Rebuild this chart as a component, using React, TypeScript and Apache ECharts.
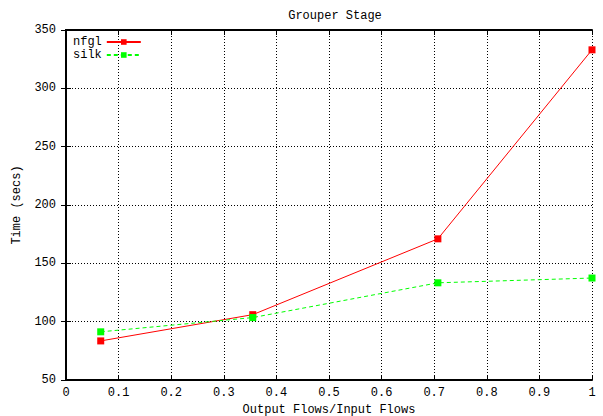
import React, { useEffect, useRef } from "react";
import * as echarts from "echarts";

const xValues = [0.066, 0.355, 0.707, 1.0];
const nfgl = [83.5, 106, 171, 333];
const silk = [91.3, 103.5, 133.3, 137.4];
const xTicks = [0, 0.1, 0.2, 0.3, 0.4, 0.5, 0.6, 0.7, 0.8, 0.9, 1];
const yTicks = [50, 100, 150, 200, 250, 300, 350];

const FONT = "Liberation Mono";
const FS = 12;

export default function App() {
  const ref = useRef<HTMLDivElement>(null);
  useEffect(() => {
    if (!ref.current) return;
    const chart = echarts.init(ref.current, null, { renderer: "svg" });
    const grid = { left: 66, right: 11, top: 30, bottom: 36, outerBoundsMode: "none", containLabel: false };
    const gridLine = { show: true, lineStyle: { color: "#000", type: [1, 2] as any, width: 1 } };
    chart.setOption({
      animation: false,
      backgroundColor: "#fff",
      title: {
        text: "Grouper Stage",
        left: 330,
        textAlign: "center",
        top: 5,
        textStyle: { fontFamily: FONT, fontSize: FS, fontWeight: "normal", color: "#000" },
      },
      legend: {
        left: 73,
        top: 36,
        orient: "vertical",
        align: "right",
        itemWidth: 34,
        itemHeight: 7,
        itemGap: 1,
        padding: 0,
        textStyle: { fontFamily: FONT, fontSize: FS, color: "#000", padding: [0, 0, 0, 0] },
        data: ["nfgl", "silk"],
      },
      grid,
      xAxis: [
        {
          type: "value",
          min: 0,
          max: 1,
          interval: 0.1,
          axisLine: { show: true, lineStyle: { color: "#000", width: 2 } },
          axisTick: { show: true, inside: true, length: 5, lineStyle: { color: "#000" } },
          axisLabel: {
            fontFamily: FONT,
            fontSize: FS,
            color: "#000",
            margin: 7,
            formatter: (v: number) => {
              const t = xTicks.find((k) => Math.abs(k - v) < 1e-9);
              return t === undefined ? "" : String(t);
            },
          },
          splitLine: gridLine,
          name: "Output Flows/Input Flows",
          nameLocation: "middle",
          nameGap: 23,
          nameTextStyle: { fontFamily: FONT, fontSize: FS, color: "#000" },
        },
        {
          type: "value",
          position: "top",
          min: 0,
          max: 1,
          interval: 0.1,
          axisLine: { show: true, lineStyle: { color: "#000", width: 2 } },
          axisTick: { show: true, inside: true, length: 5, lineStyle: { color: "#000" } },
          axisLabel: { show: false },
          splitLine: { show: false },
        },
      ],
      yAxis: [
        {
          type: "value",
          min: 50,
          max: 350,
          interval: 50,
          axisLine: { show: true, lineStyle: { color: "#000", width: 2 } },
          axisTick: { show: true, inside: true, length: 5, lineStyle: { color: "#000" } },
          axisLabel: {
            fontFamily: FONT,
            fontSize: FS,
            color: "#000",
            margin: 10,
            formatter: (v: number) => (yTicks.includes(v) ? String(v) : ""),
          },
          splitLine: gridLine,
          name: "Time (secs)",
          nameLocation: "middle",
          nameGap: 40,
          nameRotate: 90,
          nameTextStyle: { fontFamily: FONT, fontSize: FS, color: "#000" },
        },
        {
          type: "value",
          position: "right",
          min: 50,
          max: 350,
          interval: 50,
          axisLine: { show: true, lineStyle: { color: "#000", width: 2 } },
          axisTick: { show: true, inside: true, length: 5, lineStyle: { color: "#000" } },
          axisLabel: { show: false },
          splitLine: { show: false },
        },
      ],
      series: [
        {
          name: "nfgl",
          type: "line",
          data: xValues.map((x, i) => [x, nfgl[i]]),
          symbol: "rect",
          symbolSize: 7,
          color: "#ff0000",
          lineStyle: { color: "#ff0000", width: 1 },
          itemStyle: { color: "#ff0000" },
        },
        {
          name: "silk",
          type: "line",
          data: xValues.map((x, i) => [x, silk[i]]),
          symbol: "rect",
          symbolSize: 7,
          color: "#00ff00",
          lineStyle: { color: "#00ff00", width: 1, type: [4, 3] as any },
          itemStyle: { color: "#00ff00" },
        },
      ],
    });
    return () => chart.dispose();
  }, []);
  return (
    <div
      ref={ref}
      style={{ position: "fixed", left: 0, top: 0, width: 603, height: 416, background: "#fff" }}
    />
  );
}
